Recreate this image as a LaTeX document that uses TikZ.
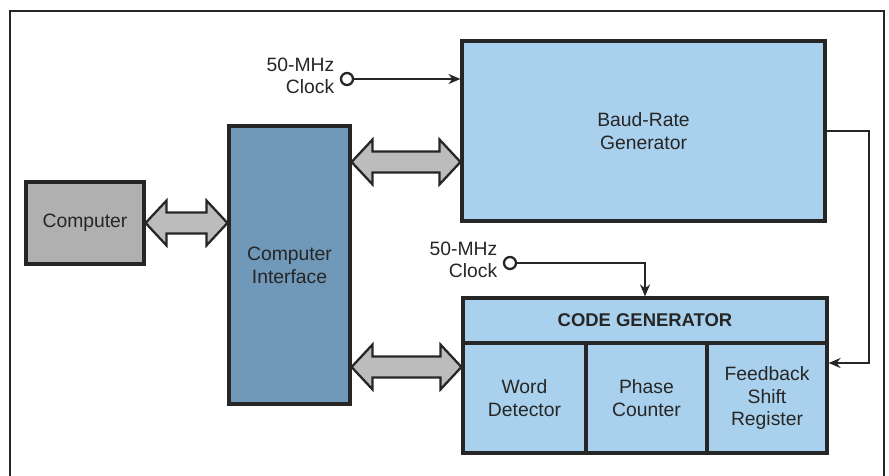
\documentclass[tikz,border=0pt]{standalone}
\usepackage{fontspec}
\setmainfont{Liberation Sans}
\usepackage{tikz}
\usetikzlibrary{arrows.meta,positioning,calc}
\definecolor{cgink}{HTML}{262626}
\definecolor{cgblue}{HTML}{A9D0EC}
\definecolor{cgblued}{HTML}{6F98B9}
\definecolor{cggrey}{HTML}{B0B0B0}
\definecolor{cgbus}{HTML}{BCBCBC}
\newcommand{\busarrow}[2]{%
  \draw[bus] let \p1 = (#1), \p2 = (#2) in
    (\x1,\y1) -- (\x1+0.42cm,\y1+0.45cm) -- (\x1+0.42cm,\y1+0.21cm)
    -- (\x2-0.42cm,\y1+0.21cm) -- (\x2-0.42cm,\y1+0.45cm) -- (\x2,\y1)
    -- (\x2-0.42cm,\y1-0.45cm) -- (\x2-0.42cm,\y1-0.21cm)
    -- (\x1+0.42cm,\y1-0.21cm) -- (\x1+0.42cm,\y1-0.45cm) -- cycle;}
\tikzset{
  blk/.style      = {draw=cgink, line width=1.8pt, align=center,
                     font=\fontsize{11}{13}\selectfont, text=cgink,
                     inner sep=2pt},
  host/.style     = {blk, fill=cggrey},
  iface/.style    = {blk, fill=cgblued},
  unit/.style     = {blk, fill=cgblue},
  cell/.style     = {unit, minimum height=2.2cm},
  port/.style     = {circle, draw=cgink, fill=white, line width=1.3pt,
                     minimum size=0.24cm, inner sep=0pt},
  clklbl/.style   = {align=right, font=\fontsize{11}{12.5}\selectfont,
                     text=cgink, inner sep=1pt},
  sig/.style      = {-{Stealth[length=2.4mm,width=2mm]}, draw=cgink,
                     line width=1.1pt},
  bus/.style      = {draw=cgink, fill=cgbus, line width=1.3pt,
                     line join=miter},
  frame/.style    = {draw=cgink, line width=0.9pt},
}
\begin{document}
\begin{tikzpicture}[x=0.02cm, y=-0.02cm]

  \useasboundingbox (0,0) rectangle (889,476);
  \clip (0,0) rectangle (889,476);
  \draw[frame] (10,490) |- (884,11) -- (884,490);

  \node[host, minimum width=2.36cm, minimum height=1.64cm] (comp) at (85,223)
    {Computer};
  \node[iface, minimum width=2.42cm, minimum height=5.56cm] (ci) at (289.5,265)
    {Computer\\Interface};
  \node[unit, minimum width=7.26cm, minimum height=3.6cm] (baud) at (643.5,131)
    {Baud-Rate\\Generator};

  % ---- code generator: title row over three cells ----------------------
  \node[unit, minimum width=7.28cm, minimum height=0.9cm,
        font=\fontsize{10.5}{13}\selectfont\bfseries] (cgtitle) at (645,320.5)
    {CODE GENERATOR};
  \node[cell, minimum width=2.46cm] (word) at (524.5,398) {Word\\Detector};
  \node[cell, minimum width=2.42cm] (phase) at (646.5,398) {Phase\\Counter};
  \node[cell, minimum width=2.40cm] (fsr) at (767,398)
    {Feedback\\Shift\\Register};

  % ---- clocks -----------------------------------------------------------
  \node[port] (clka) at (347,79) {};
  \node[clklbl, anchor=east] (clkalbl) at ([xshift=-2pt,yshift=2pt]clka.west)
    {50-MHz\\Clock};
  \node[port] (clkb) at (510,263) {};
  \node[clklbl, anchor=east] (clkblbl) at ([xshift=-2pt,yshift=2pt]clkb.west)
    {50-MHz\\Clock};

  % ---- connectors -------------------------------------------------------
  \coordinate (busa) at (400,162);
  \coordinate (busb) at (400,367);
  \coordinate (fb)   at (869,363);

  \busarrow{comp.east}{ci.west |- comp.east}
  \busarrow{ci.east |- busa}{baud.west |- busa}
  \busarrow{ci.east |- busb}{word.west |- busb}

  \draw[sig] (clka.east) -- (clka -| baud.west);
  \draw[sig] (clkb.east) -| (cgtitle.north);
  \draw[sig] (baud.east) -| (fb) -- (fb -| fsr.east);

\end{tikzpicture}
\end{document}
